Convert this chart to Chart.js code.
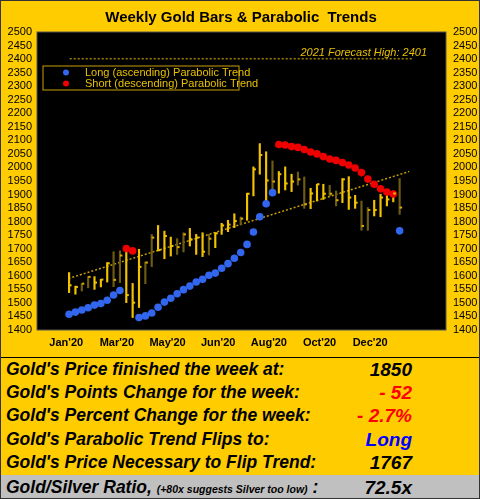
<!DOCTYPE html>
<html><head><meta charset="utf-8">
<script src="https://cdn.jsdelivr.net/npm/chart.js@4"></script>
<style>
body{margin:0;background:#ffcc00;}
#wrap{position:relative;width:478px;height:497px;border:1px solid #333;background:#ffcc00;overflow:hidden;}
#c{position:absolute;left:0;top:0;}
#tbl{position:absolute;left:0;top:356px;width:478px;border-top:1.5px solid #000;font-family:Arial,"Liberation Sans",sans-serif;font-weight:bold;font-style:italic;font-size:17.5px;}
.row{position:relative;height:23.2px;line-height:23.2px;}
.lab{position:absolute;left:5px;}
.val{position:absolute;right:67px;font-size:19px;}
.gray{background:#c0c0c0;height:25px;line-height:25px;margin-top:1px;}
.small{font-size:10.5px;}
</style></head><body>
<div id="wrap">
<canvas id="c" width="478" height="356"></canvas>
<div id="tbl">
<div class="row"><span class="lab">Gold's Price finished the week at:</span><span class="val">1850</span></div>
<div class="row"><span class="lab">Gold's Points Change for the week:</span><span class="val" style="color:#ff0000">- 52</span></div>
<div class="row"><span class="lab">Gold's Percent Change for the week:</span><span class="val" style="color:#ff0000">- 2.7%</span></div>
<div class="row"><span class="lab">Gold's Parabolic Trend Flips to:</span><span class="val" style="color:#0000ff">Long</span></div>
<div class="row"><span class="lab">Gold's Price Necessary to Flip Trend:</span><span class="val">1767</span></div>
<div class="row gray"><span class="lab">Gold/Silver Ratio, <span class="small">(+80x suggests Silver too low)</span> :</span><span class="val">72.5x</span></div>
</div>
</div>
<script>
const highs=[1612,1562,1571,1597,1597,1587,1649,1689,1692,1704,1572,1698,1651,1753,1786,1765,1743,1737,1759,1775,1753,1759,1753,1759,1794,1805,1829,1817,1905,2002,2088,2058,2024,1985,2002,1975,1983,1965,1923,1938,1938,1934,1913,1959,1966,1897,1876,1852,1879,1901,1910,1913,1959];
const lows=[1538,1532,1544,1556,1550,1559,1577,1560,1575,1501,1446,1483,1571,1634,1692,1663,1673,1679,1688,1710,1679,1671,1677,1704,1753,1763,1778,1788,1805,1895,1975,1874,1916,1905,1917,1911,1935,1849,1848,1876,1882,1895,1858,1870,1845,1849,1768,1768,1821,1818,1858,1873,1827];
const closes=[1565,1559,1571,1596,1575,1586,1646,1585,1675,1529,1501,1633,1649,1741,1695,1747,1710,1706,1753,1735,1741,1689,1737,1757,1786,1789,1802,1811,1903,1993,2046,1952,1948,1975,1941,1948,1956,1864,1904,1938,1903,1903,1879,1956,1889,1870,1784,1843,1843,1889,1882,1904,1852];
const darkBars=[2,3,7,8,12,13,17,18,22,27,32,36,37,41,42,46,47,52];
const sar=[1458,1466,1474,1482,1492,1498,1510,1529,1546,1701,1692,1446,1452,1463,1484,1503,1517,1534,1549,1562,1577,1587,1602,1610,1628,1645,1665,1686,1716,1762,1818,1866,1907,2085,2083,2077,2074,2066,2057,2050,2040,2031,2026,2018,2009,1998,1981,1957,1938,1921,1909,1902,1766];
const sarShort=[9,10,33,34,35,36,37,38,39,40,41,42,43,44,45,46,47,48,49,50,51];
const trendLine=[{x:-0.1,y:1590},{x:53.5,y:1985}];
const forecast=2401;
const xTickLabels=["Jan'20","Mar'20","May'20","Jun'20","Aug'20","Oct'20","Dec'20"];
const xMin=-0.45,xMax=54.7,xStep=7.97;

const YEL='#f2c200',DARK='#6e5c14';
const barData=highs.map((h,i)=>({x:i,y:[lows[i],h]}));
const longPts=[],shortPts=[];
sar.forEach((v,i)=>{(sarShort.includes(i)?shortPts:longPts).push({x:i,y:v});});

const bg={id:'bg',beforeDraw(c){const{ctx,chartArea:a}=c;ctx.save();ctx.fillStyle='#ffcc00';ctx.fillRect(0,0,c.width,c.height);ctx.fillStyle='#000';ctx.fillRect(a.left,a.top,a.right-a.left,a.bottom-a.top);ctx.strokeStyle='#555';ctx.strokeRect(a.left,a.top,a.right-a.left,a.bottom-a.top);ctx.restore();},
afterDatasetsDraw(c){const{ctx,scales:{x,y}}=c;ctx.save();
closes.forEach((v,i)=>{const px=x.getPixelForValue(i),py=y.getPixelForValue(v);ctx.fillStyle=darkBars.includes(i)?'#d9a800':YEL;ctx.fillRect(px,py-1,2.5,2);});
ctx.fillStyle='#000';ctx.font='bold 15px Arial';ctx.textAlign='center';ctx.fillText('Weekly Gold Bars & Parabolic  Trends',240,21);
ctx.fillStyle='#e8c000';ctx.font='italic 11px Arial';ctx.textAlign='right';ctx.fillText('2021 Forecast High: '+forecast,426,55);
ctx.fillStyle='#000';ctx.font='11px Arial';ctx.textBaseline='middle';
y.ticks.forEach(t=>{const py=y.getPixelForValue(t.value);ctx.textAlign='right';ctx.fillText(String(t.value),31,py);ctx.textAlign='left';ctx.fillText(String(t.value),452,py);});
ctx.restore();}};
new Chart(document.getElementById('c'),{
data:{datasets:[
{type:'bar',data:barData,backgroundColor:barData.map((d,i)=>darkBars.includes(i)?DARK:YEL),barThickness:barData.map((d,i)=>darkBars.includes(i)?2.5:1.5),order:3},
{type:'line',data:[{x:0.1,y:forecast},{x:54.2,y:forecast}],borderColor:'#e8c000',borderWidth:1,borderDash:[2,2],pointRadius:0,order:4},
{type:'line',data:trendLine,borderColor:'#c8a000',borderWidth:1.5,borderDash:[2,2],pointRadius:0,order:4},
{type:'scatter',label:'Long (ascending) Parabolic Trend',data:longPts,backgroundColor:'#3366ee',borderWidth:0,pointRadius:3.8,order:1},
{type:'scatter',label:'Short (descending) Parabolic Trend',data:shortPts,backgroundColor:'#ee0000',borderWidth:0,pointRadius:3.8,order:1}
]},
options:{responsive:false,animation:false,layout:{padding:{top:31,bottom:0,left:0,right:0}},
plugins:{legend:{display:false},tooltip:{enabled:false}},
scales:{
x:{type:'linear',min:xMin,max:xMax,grid:{display:false,drawTicks:false},border:{display:false},
afterBuildTicks(s){s.ticks=xTickLabels.map((l,i)=>({value:xMin+i*xStep}));},
ticks:{callback:(v,i)=>xTickLabels[i],color:'#000',font:{family:'Arial',size:11,weight:'bold'},maxRotation:0,padding:6,autoSkip:false},
afterFit(s){s.height=27;}},
y:{min:1400,max:2500,position:'left',grid:{display:false},border:{display:false},ticks:{stepSize:50,display:false},afterFit(s){s.width=36;}},
y2:{min:1400,max:2500,position:'right',grid:{display:false},border:{display:false},ticks:{stepSize:50,display:false},afterFit(s){s.width=33;}}
}},
plugins:[bg,{id:'leg',afterDraw(c){const ctx=c.ctx;ctx.save();ctx.strokeStyle='#c8a000';ctx.lineWidth=1;ctx.strokeRect(42,65,196,24);
ctx.font='11px Arial';ctx.textAlign='left';ctx.textBaseline='middle';
ctx.fillStyle='#3366ee';ctx.beginPath();ctx.arc(65,71.5,3,0,7);ctx.fill();
ctx.fillStyle='#ee0000';ctx.beginPath();ctx.arc(65,82.5,3,0,7);ctx.fill();
ctx.fillStyle='#e8c000';ctx.fillText(c.data.datasets[3].label,84,72);ctx.fillText(c.data.datasets[4].label,84,83);ctx.restore();}}]
});
</script>
</body></html>
